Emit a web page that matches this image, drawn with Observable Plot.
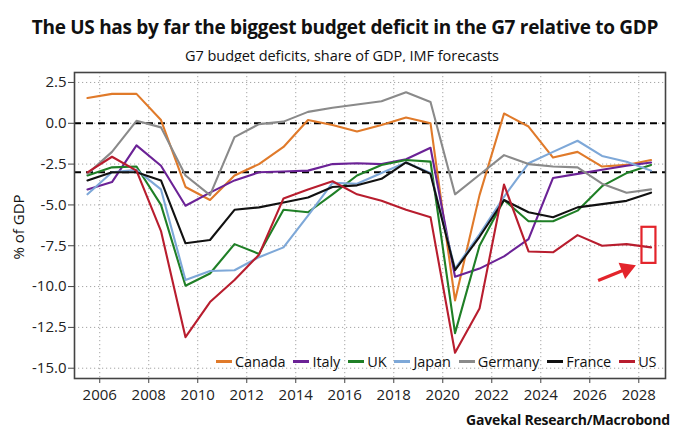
<!DOCTYPE html>
<html>
<head>
<meta charset="utf-8">
<script src="https://cdn.jsdelivr.net/npm/d3@7"></script>
<script src="https://cdn.jsdelivr.net/npm/@observablehq/plot@0.6"></script>
<style>
  html, body { margin: 0; padding: 0; background: #fff; }
  #wrap { position: relative; width: 680px; height: 440px; font-family: "Open Sans", sans-serif; color: #111; overflow: hidden; }
  #title { position: absolute; top: 14px; left: 0; width: 690px; text-align: center; font-weight: 700; font-size: 19px; letter-spacing: -0.3px; white-space: nowrap; }
  #subtitle { position: absolute; top: 46px; left: 0; width: 684px; text-align: center; font-size: 14.5px; white-space: nowrap; letter-spacing: -0.05px; }
  #chart { position: absolute; top: 62px; left: 0; }
  #ylabel { position: absolute; left: 18px; top: 227px; transform: translate(-50%, -50%) rotate(-90deg); font-size: 15px; white-space: nowrap; }
  #legend { position: absolute; top: 352px; left: 216px; display: flex; font-size: 14.5px; white-space: nowrap; letter-spacing: -0.1px; }
  #legend .item { display: flex; align-items: center; margin-right: 8px; }
  #legend .sw { width: 16px; height: 2.5px; margin-right: 3px; }
  #caption { position: absolute; top: 410px; right: 10px; font-weight: 700; font-size: 14px; white-space: nowrap; letter-spacing: -0.2px; }
</style>
</head>
<body>
<div id="wrap">
  <div id="title">The US has by far the biggest budget deficit in the G7 relative to GDP</div>
  <div id="subtitle">G7 budget deficits, share of GDP, IMF forecasts</div>
  <div id="chart"></div>
  <div id="ylabel">% of GDP</div>
  <div id="legend"></div>
  <div id="caption">Gavekal Research/Macrobond</div>
</div>
<script>
// ---- data (general government balance, % of GDP; annual values plotted mid-year) ----
const years = [2005, 2006, 2007, 2008, 2009, 2010, 2011, 2012, 2013, 2014, 2015, 2016,
               2017, 2018, 2019, 2020, 2021, 2022, 2023, 2024, 2025, 2026, 2027, 2028];

const countries = ["Canada", "Italy", "UK", "Japan", "Germany", "France", "US"];
const colors = ["#E07A2A", "#6B2296", "#1F7F26", "#7EA8D8", "#8A8A8A", "#111111", "#B81D2E"];

const canada  = [1.55, 1.8, 1.8, 0.2, -3.9, -4.7, -3.2, -2.5, -1.45, 0.2, -0.1, -0.5,
                 -0.1, 0.35, 0.0, -10.85, -4.4, 0.6, -0.2, -2.1, -1.75, -2.65, -2.55, -2.25];
const italy   = [-4.05, -3.6, -1.35, -2.6, -5.05, -4.25, -3.5, -3.0, -2.95, -2.9, -2.5, -2.45,
                 -2.5, -2.2, -1.5, -9.4, -8.9, -8.15, -7.1, -3.35, -3.1, -2.85, -2.6, -2.4];
const uk      = [-3.2, -2.7, -2.65, -5.0, -9.95, -9.2, -7.4, -8.0, -5.3, -5.45, -4.35, -3.2,
                 -2.55, -2.25, -2.35, -12.85, -7.5, -4.7, -6.0, -6.0, -5.35, -3.85, -3.05, -2.55];
const japan   = [-4.35, -3.0, -2.85, -4.05, -9.6, -9.05, -9.0, -8.2, -7.6, -5.65, -3.65, -3.7,
                 -3.05, -2.4, -3.05, -8.9, -6.8, -4.5, -2.45, -1.75, -1.07, -2.0, -2.35, -2.9];
const germany = [-3.1, -1.75, 0.15, -0.25, -3.2, -4.4, -0.85, -0.05, 0.1, 0.7, 0.95, 1.15,
                 1.35, 1.9, 1.3, -4.35, -3.15, -1.95, -2.5, -2.65, -2.7, -3.7, -4.25, -4.05];
const france  = [-3.5, -3.0, -3.0, -3.5, -7.35, -7.15, -5.3, -5.15, -4.85, -4.55, -3.9, -3.8,
                 -3.4, -2.4, -3.1, -9.0, -6.95, -4.7, -5.45, -5.75, -5.15, -4.95, -4.75, -4.25];
const us      = [-3.0, -2.05, -2.9, -6.6, -13.1, -10.95, -9.6, -8.05, -4.6, -4.05, -3.55, -4.35,
                 -4.75, -5.3, -5.75, -14.05, -11.35, -3.75, -7.85, -7.9, -6.85, -7.5, -7.4, -7.6];

const xTicks = [2006, 2008, 2010, 2012, 2014, 2016, 2018, 2020, 2022, 2024, 2026, 2028];
const yTicks = [2.5, 0, -2.5, -5, -7.5, -10, -12.5, -15];
const refLines = [0, -3];

// annotation: red box around the last US value, and an arrow pointing at it
const boxAnno = [{x1: 2028.13, x2: 2028.7, y1: -6.37, y2: -8.58}];
const arrowAnno = [{x1: 2026.34, y1: -9.63, x2: 2027.5, y2: -8.92}];

// ---- build table ----
const seriesValues = [canada, italy, uk, japan, germany, france, us];
const rows = [];
countries.forEach((c, i) => {
  years.forEach((yr, j) => rows.push({country: c, year: yr, value: seriesValues[i][j]}));
});

const annoRed = "#E3242B";

const chart = Plot.plot({
  width: 680,
  height: 346,
  marginLeft: 74,
  marginRight: 15,
  marginTop: 10,
  marginBottom: 30,
  style: {fontFamily: "Open Sans, sans-serif", fontSize: "15px", color: "#222", background: "#fff"},
  x: {domain: [2004.97, 2029.09], label: null},
  y: {domain: [-15.63, 3.11], label: null},
  color: {domain: countries, range: colors},
  marks: [
    Plot.gridX(xTicks, {stroke: "#9a9a9a", strokeOpacity: 0.9, strokeDasharray: "1.2,2.8"}),
    Plot.gridY(yTicks, {stroke: "#9a9a9a", strokeOpacity: 0.9, strokeDasharray: "1.2,2.8"}),
    Plot.ruleY(refLines, {stroke: "#000", strokeWidth: 2, strokeDasharray: "7,5"}),
    Plot.line(rows, {x: d => d.year + 0.5, y: "value", z: "country", stroke: "country", strokeWidth: 2.1}),
    Plot.rect(boxAnno, {x1: "x1", x2: "x2", y1: "y1", y2: "y2", fill: "none", stroke: annoRed, strokeWidth: 2.2}),
    Plot.link(arrowAnno, {x1: "x1", y1: "y1", x2: "x2", y2: "y2", stroke: annoRed, strokeWidth: 3.2}),
    Plot.dot(arrowAnno, {x: "x2", y: "y2", symbol: "triangle", rotate: 68, r: 6.5, fill: annoRed, stroke: "none"}),
    Plot.frame({stroke: "#444", strokeWidth: 1.6}),
    Plot.axisX(xTicks, {tickSize: 5, tickPadding: 6, tickFormat: d => String(d), fontSize: 15, stroke: "#444"}),
    Plot.axisY(yTicks, {tickSize: 6, tickPadding: 2, tickFormat: d => d.toFixed(1), fontSize: 15, stroke: "#444"})
  ]
});
document.getElementById("chart").appendChild(chart);

// ---- legend ----
const legend = document.getElementById("legend");
countries.forEach((c, i) => {
  const item = document.createElement("div");
  item.className = "item";
  const sw = document.createElement("span");
  sw.className = "sw";
  sw.style.background = colors[i];
  const t = document.createElement("span");
  t.textContent = c;
  item.appendChild(sw);
  item.appendChild(t);
  legend.appendChild(item);
});
</script>
</body>
</html>
